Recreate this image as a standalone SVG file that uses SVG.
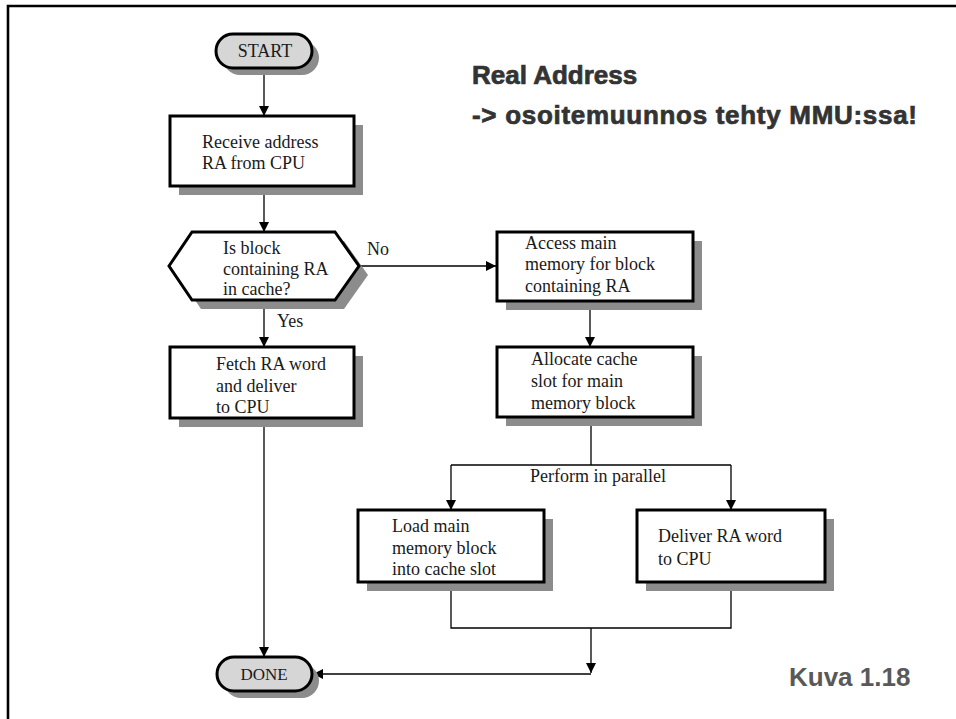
<svg xmlns="http://www.w3.org/2000/svg" width="956" height="719" viewBox="0 0 956 719">
  <defs>
    <style>
      .box { fill: #ffffff; stroke: #000000; stroke-width: 3; }
      .term { fill: #d6d6d6; stroke: #000000; stroke-width: 3; }
      .shadow { fill: #8c8c8c; stroke: none; }
      .lbl { font-family: "Liberation Serif", "Times New Roman", serif; font-size: 18px; fill: #1a1a1a; }
      .mid { text-anchor: middle; }
      .wire { fill: none; stroke: #000000; stroke-width: 1.3; }
      .head { font-family: "Liberation Sans", Arial, sans-serif; font-weight: bold; font-size: 26px; fill: #333333; stroke: #333333; stroke-width: 0.7; }
      .cap { font-family: "Liberation Sans", Arial, sans-serif; font-weight: bold; font-size: 26px; fill: #595959; }
    </style>
    <marker id="arrow" viewBox="0 0 10 10" refX="10" refY="5" markerWidth="10" markerHeight="10" markerUnits="userSpaceOnUse" orient="auto">
      <path d="M0,0 L10,5 L0,10 z" fill="#000000"/>
    </marker>
  </defs>

  <rect width="956" height="719" fill="#ffffff"/>
  <!-- slide frame -->
  <path d="M8,719 V6 H956" fill="none" stroke="#000000" stroke-width="2.6"/>

  <!-- heading -->
  <g id="title">
    <text class="head" x="472" y="84">Real Address</text>
    <text class="head" x="472" y="124" letter-spacing="0.7">-&gt; osoitemuunnos tehty MMU:ssa!</text>
  </g>
  <text class="cap" x="789" y="686">Kuva 1.18</text>

  <!-- connectors -->
  <g id="connectors">
    <path class="wire" d="M264,68 V116" marker-end="url(#arrow)"/>
    <path class="wire" d="M264,186 V232" marker-end="url(#arrow)"/>
    <path class="wire" d="M264,300 V347" marker-end="url(#arrow)"/>
    <path class="wire" d="M359,266 H496" marker-end="url(#arrow)"/>
    <path class="wire" d="M590,301 V347" marker-end="url(#arrow)"/>
    <path class="wire" d="M591,417 V465"/>
    <path class="wire" d="M451,465 H731"/>
    <path class="wire" d="M451,465 V510" marker-end="url(#arrow)"/>
    <path class="wire" d="M731,465 V510" marker-end="url(#arrow)"/>
    <path class="wire" d="M451,582 V628 H731 V582"/>
    <path class="wire" d="M591,628 V673" marker-end="url(#arrow)"/>
    <path class="wire" d="M591,674 H313" marker-end="url(#arrow)"/>
    <path class="wire" d="M264,418 V657" marker-end="url(#arrow)"/>
    <text class="lbl" x="367" y="255">No</text>
    <text class="lbl" x="277" y="327">Yes</text>
    <text class="lbl" x="530" y="482">Perform in parallel</text>
  </g>

  <g id="start">
    <rect class="shadow" x="223" y="41" width="96" height="34" rx="17"/>
    <rect class="term" x="216" y="34" width="96" height="34" rx="17"/>
    <text class="lbl mid" x="265" y="57">START</text>
  </g>

  <g id="receive">
    <rect class="shadow" x="179" y="125" width="184" height="70"/>
    <rect class="box" x="170" y="116" width="184" height="70"/>
    <text class="lbl" x="202" y="148">Receive address</text>
    <text class="lbl" x="202" y="169">RA from CPU</text>
  </g>

  <g id="in-cache">
    <polygon class="shadow" points="178,275 201,241 344,241 368,275 344,309 201,309"/>
    <polygon class="box" points="169,266 192,232 335,232 359,266 335,300 192,300"/>
    <text class="lbl" x="223" y="254">Is block</text>
    <text class="lbl" x="223" y="275">containing RA</text>
    <text class="lbl" x="223" y="295">in cache?</text>
  </g>

  <g id="fetch">
    <rect class="shadow" x="179" y="356" width="184" height="71"/>
    <rect class="box" x="170" y="347" width="184" height="71"/>
    <text class="lbl" x="216" y="370">Fetch RA word</text>
    <text class="lbl" x="216" y="392">and deliver</text>
    <text class="lbl" x="216" y="413">to CPU</text>
  </g>

  <g id="access">
    <rect class="shadow" x="506" y="241" width="196" height="69"/>
    <rect class="box" x="497" y="232" width="196" height="69"/>
    <text class="lbl" x="525" y="249">Access main</text>
    <text class="lbl" x="525" y="270">memory for block</text>
    <text class="lbl" x="525" y="292">containing RA</text>
  </g>

  <g id="allocate">
    <rect class="shadow" x="506" y="356" width="196" height="70"/>
    <rect class="box" x="497" y="347" width="196" height="70"/>
    <text class="lbl" x="531" y="365">Allocate cache</text>
    <text class="lbl" x="531" y="387">slot for main</text>
    <text class="lbl" x="531" y="409">memory block</text>
  </g>

  <g id="load">
    <rect class="shadow" x="367" y="519" width="186" height="72"/>
    <rect class="box" x="358" y="510" width="186" height="72"/>
    <text class="lbl" x="392" y="532">Load main</text>
    <text class="lbl" x="392" y="554">memory block</text>
    <text class="lbl" x="392" y="575">into cache slot</text>
  </g>

  <g id="deliver">
    <rect class="shadow" x="646" y="519" width="188" height="72"/>
    <rect class="box" x="637" y="510" width="188" height="72"/>
    <text class="lbl" x="658" y="542">Deliver RA word</text>
    <text class="lbl" x="658" y="565">to CPU</text>
  </g>

  <g id="done">
    <rect class="shadow" x="224" y="664" width="95" height="34" rx="17"/>
    <rect class="term" x="217" y="657" width="95" height="34" rx="17"/>
    <text class="lbl mid" x="264" y="680" style="font-size:17px">DONE</text>
  </g>
</svg>
